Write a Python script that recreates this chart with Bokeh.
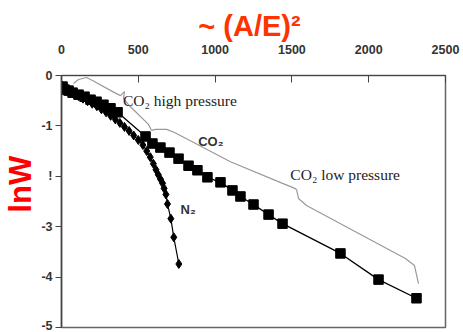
from bokeh.plotting import figure
from bokeh.models import Range1d, Label, ColumnDataSource
from bokeh.embed import file_html
from bokeh.resources import INLINE

# CO2 series (squares)
co2_x = [7, 20, 46, 72, 111, 150, 189, 228, 273, 319, 365,
         547, 592, 644, 703, 762, 827, 885, 950, 1035, 1113, 1165,
         1250, 1348, 1439, 1816, 2064, 2311]
co2_y = [-0.22, -0.28, -0.30, -0.34, -0.38, -0.42, -0.48, -0.52, -0.58, -0.65, -0.73,
         -1.21, -1.35, -1.43, -1.53, -1.65, -1.79, -1.88, -2.02, -2.12, -2.28, -2.40,
         -2.56, -2.76, -2.94, -3.53, -4.05, -4.42]

# N2 series (diamonds)
n2_x = [5, 25, 50, 80, 110, 140, 170, 200, 230, 260, 290, 320, 350, 380, 410, 440,
        470, 500, 530, 555, 578, 598, 615, 630, 645, 658, 668, 680, 690, 712, 731, 764]
n2_y = [-0.20, -0.26, -0.31, -0.36, -0.41, -0.46, -0.51, -0.56, -0.61, -0.67, -0.73,
        -0.80, -0.87, -0.94, -1.02, -1.10, -1.19, -1.28, -1.38, -1.50, -1.62, -1.75,
        -1.87, -1.97, -2.06, -2.14, -2.24, -2.36, -2.55, -2.84, -3.21, -3.74]

# Brace annotation paths (data units)
brace1_x = [78, 111, 163, 202, 345, 384, 410]
brace1_y = [-0.16, -0.08, -0.04, -0.10, -0.34, -0.40, -0.32]
brace1b_x = [410, 404, 436, 566, 586]
brace1b_y = [-0.32, -0.46, -0.58, -0.97, -1.09]
brace2_x = [586, 612, 684, 736, 1100, 1439, 1504, 1530]
brace2_y = [-1.09, -1.07, -1.07, -1.13, -1.71, -2.14, -2.22, -2.26]
brace2b_x = [1530, 1543, 1595, 2239, 2298, 2324]
brace2b_y = [-2.26, -2.44, -2.58, -3.63, -3.77, -4.13]

x_ticks = [0, 500, 1000, 1500, 2000, 2500]
y_ticks = [0, -1, -2, -3, -4, -5]
y_tick_labels = {0: "0", -1: "-1", -2: "!", -3: "-3", -4: "-4", -5: "-5"}

p = figure(width=463, height=332, output_backend="svg", toolbar_location=None,
           x_axis_location="above",
           x_range=Range1d(0, 2500), y_range=Range1d(-5, 0),
           min_border_left=61, min_border_right=18, min_border_top=75, min_border_bottom=5)
p.grid.visible = False
p.outline_line_color = "#666666"
p.outline_line_width = 1.5
p.background_fill_color = "white"
p.border_fill_color = "white"

ax = p.xaxis[0]
ax.ticker = x_ticks
ax.major_tick_in = 7
ax.major_tick_out = 0
ax.minor_tick_line_color = None
ax.axis_line_color = "#444444"
ax.major_tick_line_color = "#444444"
ax.major_label_text_font = "Liberation Sans"
ax.major_label_text_font_style = "bold"
ax.major_label_text_font_size = "12.5px"
ax.major_label_text_color = "#333333"
ax.major_label_standoff = 22
ax.axis_label = "~  (A/E)²"
ax.axis_label_text_font = "Liberation Sans"
ax.axis_label_text_font_style = "bold"
ax.axis_label_text_font_size = "29px"
ax.axis_label_text_color = "#FF3300"
ax.axis_label_standoff = 0

ay = p.yaxis[0]
ay.ticker = y_ticks
ay.major_label_overrides = y_tick_labels
ay.major_tick_in = 0
ay.major_tick_out = 6
ay.minor_tick_line_color = None
ay.axis_line_color = "#444444"
ay.axis_line_width = 1.5
ay.major_tick_line_color = "#444444"
ay.major_label_text_font = "Liberation Sans"
ay.major_label_text_font_style = "bold"
ay.major_label_text_font_size = "12.5px"
ay.major_label_text_color = "#333333"
ay.major_label_standoff = 3
ay.axis_label = "\u00a0\u00a0\u00a0\u00a0lnW"
ay.axis_label_text_font = "Liberation Sans"
ay.axis_label_text_font_style = "bold"
ay.axis_label_text_font_size = "31px"
ay.axis_label_text_color = "#FF0000"
ay.axis_label_standoff = 0

# braces
for bx, by in [(brace1_x, brace1_y), (brace1b_x, brace1b_y),
               (brace2_x, brace2_y), (brace2b_x, brace2b_y)]:
    p.line(bx, by, line_color="#999999", line_width=1.2)

co2 = ColumnDataSource(dict(x=co2_x, y=co2_y))
n2 = ColumnDataSource(dict(x=n2_x, y=n2_y))
p.line("x", "y", source=co2, line_color="black", line_width=1.3)
p.scatter("x", "y", source=co2, marker="square", size=9.5, fill_color="black", line_color="black")
p.line("x", "y", source=n2, line_color="black", line_width=1.2)
p.scatter("x", "y", source=n2, marker="diamond", size=9, fill_color="black", line_color="black")

# texts
p.add_layout(Label(x=400, y=-0.5, text="CO₂ high pressure", text_font="Liberation Serif",
                   text_font_size="15.5px", text_color="#222222", text_baseline="middle"))
p.add_layout(Label(x=890, y=-1.31, text="CO₂", text_font="Liberation Sans",
                   text_font_style="bold", text_font_size="13px", text_color="#333333",
                   text_baseline="middle"))
p.add_layout(Label(x=1490, y=-1.97, text="CO₂ low pressure", text_font="Liberation Serif",
                   text_font_size="15.5px", text_color="#222222", text_baseline="middle"))
p.add_layout(Label(x=775, y=-2.66, text="N₂", text_font="Liberation Sans",
                   text_font_style="bold", text_font_size="13px", text_color="#333333",
                   text_baseline="middle"))

open("out.html", "w").write(file_html(p, INLINE))
